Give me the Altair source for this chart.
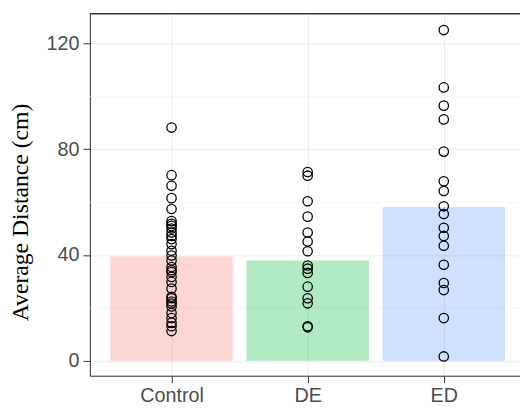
import altair as alt
import pandas as pd

cats = ["Control", "DE", "ED"]
positions = [1, 2, 3]
bar_means = [39.4, 37.9, 58.1]
fills = ["#F8766D", "#00BA38", "#619CFF"]

control_vals = [88.2, 70.2, 66.2, 61.5, 57.4, 52.8, 51.8, 51.0, 50.0, 48.5, 47.2, 46.0,
                44.1, 41.6, 39.8, 37.9, 35.4, 34.2, 33.5, 31.7, 29.8, 27.3, 24.2, 23.6,
                22.4, 21.6, 20.5, 18.0, 16.1, 14.3, 13.0, 11.2]
de_vals = [71.4, 70.0, 60.3, 54.5, 48.5, 45.1, 41.4, 36.0, 34.8, 33.2, 28.0, 23.6,
           21.7, 13.0, 12.6]
ed_vals = [125.1, 103.4, 96.5, 91.3, 79.1, 67.9, 64.2, 58.4, 55.5, 50.3, 47.2, 43.5,
           36.3, 29.4, 26.7, 16.1, 1.6]

y_major = [0, 40, 80, 120]
y_minor = [20, 60, 100]
y_domain = [-5.7, 131.3]
x_domain = [0.4, 3.56]

bars = pd.DataFrame({"group": cats, "pos": positions, "mean": bar_means})
pts = pd.DataFrame(
    [{"group": "Control", "pos": 1, "value": v} for v in control_vals]
    + [{"group": "DE", "pos": 2, "value": v} for v in de_vals]
    + [{"group": "ED", "pos": 3, "value": v} for v in ed_vals]
)
minor = pd.DataFrame({"v": y_minor})

label_expr = " : ".join(
    f"datum.value == {p} ? '{c}'" for p, c in zip(positions[:-1], cats[:-1])
) + f" : '{cats[-1]}'"

xscale = alt.Scale(domain=x_domain, nice=False, zero=False)
yscale = alt.Scale(domain=y_domain, nice=False, zero=False)

xaxis = alt.Axis(values=positions, labelExpr=label_expr, title=None, grid=True,
                 gridColor="#ebebeb", gridWidth=1, domainColor="#333333",
                 tickColor="#333333", tickSize=7, labelFont="Liberation Sans",
                 labelFontSize=20, labelColor="#4d4d4d", labelPadding=3)
yaxis = alt.Axis(values=y_major, title="Average Distance (cm)", grid=True,
                 gridColor="#ebebeb", gridWidth=1, domainColor="#333333",
                 tickColor="#333333", tickSize=7, labelFont="Liberation Sans",
                 labelFontSize=20, labelColor="#4d4d4d", labelPadding=4,
                 titleFont="Liberation Serif", titleFontSize=24,
                 titleFontWeight="normal", titleColor="#000000",
                 titleX=-70, titleY=201, titleBaseline="middle", titleAlign="center")

minor_rules = alt.Chart(minor).mark_rule(color="#f2f2f2", strokeWidth=0.7).encode(
    y=alt.Y("v:Q", scale=yscale, axis=yaxis)
)

bar_layer = alt.Chart(bars).mark_bar(opacity=0.3).transform_calculate(
    lo="datum.pos - 0.45", hi="datum.pos + 0.45"
).encode(
    x=alt.X("lo:Q", scale=xscale, axis=xaxis),
    x2="hi:Q",
    y=alt.Y("mean:Q", scale=yscale, axis=yaxis),
    y2=alt.datum(0),
    color=alt.Color("group:N", scale=alt.Scale(domain=cats, range=fills), legend=None),
)

point_layer = alt.Chart(pts).mark_point(shape="circle", filled=False, color="black",
                                        size=90, strokeWidth=1.3, opacity=1).encode(
    x=alt.X("pos:Q", scale=xscale, axis=xaxis),
    y=alt.Y("value:Q", scale=yscale, axis=yaxis),
)

top_border = alt.Chart(bars).mark_rule(color="#333333", strokeWidth=1).encode(
    y=alt.datum(y_domain[1]),
    x=alt.datum(x_domain[0]),
    x2=alt.datum(x_domain[1]),
)

chart = alt.layer(minor_rules, bar_layer, point_layer, top_border).properties(
    width=436, height=367,
    autosize=alt.AutoSizeParams(type="none"),
    padding={"left": 83, "top": 3, "right": 0, "bottom": 32},
).configure_view(stroke=None).configure(background="white")

chart.save("out.html", embed_options={"renderer": "svg", "actions": False})
